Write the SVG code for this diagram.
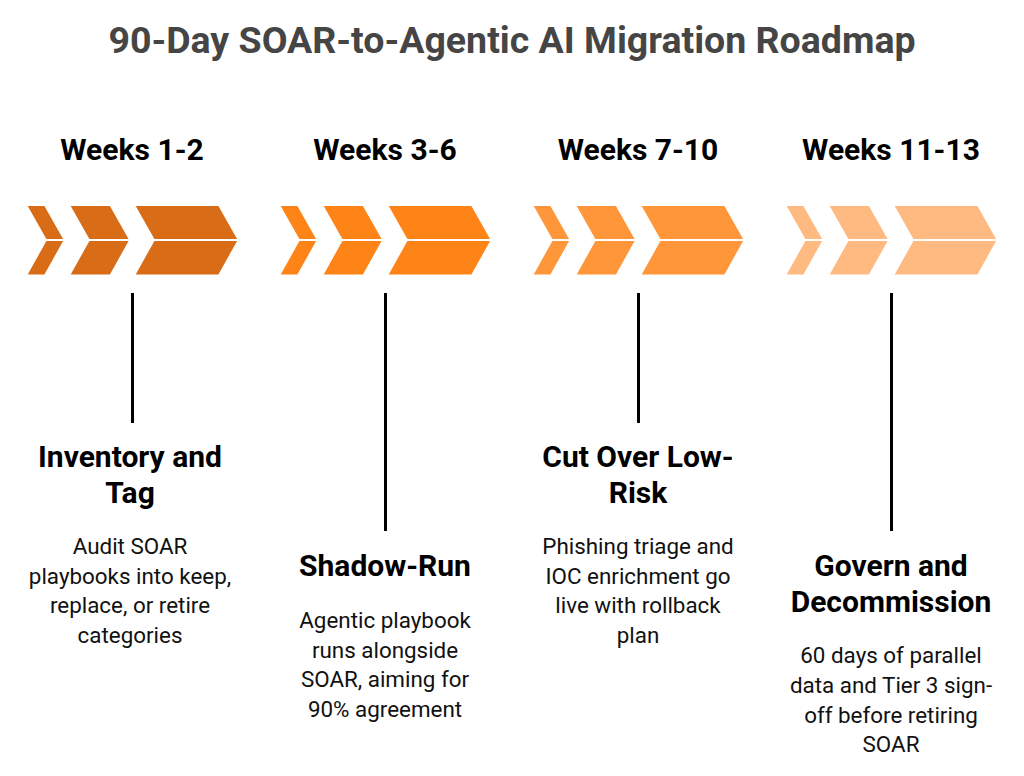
<svg xmlns="http://www.w3.org/2000/svg" width="1024" height="776" viewBox="0 0 1024 776">
<style>
.title{font-family:Roboto,"Liberation Sans",sans-serif;font-weight:700;font-size:37.5px;fill:#454545;text-anchor:middle}
.wk{font-family:Roboto,"Liberation Sans",sans-serif;font-weight:700;font-size:30px;fill:#000;text-anchor:middle}
.hd{font-family:Roboto,"Liberation Sans",sans-serif;font-weight:700;font-size:30px;fill:#000;text-anchor:middle}
.ds{font-family:Roboto,"Liberation Sans",sans-serif;font-weight:400;font-size:22.4px;fill:#111;text-anchor:middle}
.line{stroke:#000;stroke-width:3}
</style>
<defs>
<g id="chevs" stroke="#fff" stroke-width="2" stroke-linejoin="miter">
<polygon points="26,205 45,205 64.8,240 45.8,240"/>
<polygon points="45.8,240 64.8,240 45,275.5 26,275.5"/>
<polygon points="69,205 110.5,205 130.3,240 88.8,240"/>
<polygon points="88.8,240 130.3,240 110.5,275.5 69,275.5"/>
<polygon points="134,205 219,205 238.8,240 153.8,240"/>
<polygon points="153.8,240 238.8,240 219,275.5 134,275.5"/>
</g>
</defs>
<rect width="1024" height="776" fill="#fff"/>
<text class="title" x="512" y="53">90-Day SOAR-to-Agentic AI Migration Roadmap</text>

<g id="phase1">
<text class="wk" x="132" y="160">Weeks 1-2</text>
<g fill="#D96C17"><use href="#chevs"/></g>
<text class="hd" x="130" y="467">Inventory and</text>
<text class="hd" x="130" y="503">Tag</text>
<text class="ds" x="130" y="554">Audit SOAR</text>
<text class="ds" x="130" y="584">playbooks into keep,</text>
<text class="ds" x="130" y="613">replace, or retire</text>
<text class="ds" x="130" y="643">categories</text>
</g>

<g id="phase2">
<text class="wk" x="385" y="160">Weeks 3-6</text>
<g fill="#FF8418" transform="translate(253,0)"><use href="#chevs"/></g>
<text class="hd" x="385" y="576">Shadow-Run</text>
<text class="ds" x="385" y="628">Agentic playbook</text>
<text class="ds" x="385" y="658">runs alongside</text>
<text class="ds" x="385" y="687">SOAR, aiming for</text>
<text class="ds" x="385" y="717">90% agreement</text>
</g>

<g id="phase3">
<text class="wk" x="638" y="160">Weeks 7-10</text>
<g fill="#FF963A" transform="translate(506,0)"><use href="#chevs"/></g>
<text class="hd" x="638" y="467">Cut Over Low-</text>
<text class="hd" x="638" y="503">Risk</text>
<text class="ds" x="638" y="554">Phishing triage and</text>
<text class="ds" x="638" y="584">IOC enrichment go</text>
<text class="ds" x="638" y="613">live with rollback</text>
<text class="ds" x="638" y="643">plan</text>
</g>

<g id="phase4">
<text class="wk" x="891" y="160">Weeks 11-13</text>
<g fill="#FFBA82" transform="translate(759,0)"><use href="#chevs"/></g>
<text class="hd" x="891" y="576">Govern and</text>
<text class="hd" x="891" y="612">Decommission</text>
<text class="ds" x="891" y="663">60 days of parallel</text>
<text class="ds" x="891" y="693">data and Tier 3 sign-</text>
<text class="ds" x="891" y="723">off before retiring</text>
<text class="ds" x="891" y="752">SOAR</text>
</g>

<g id="connectors">
<line class="line" x1="132.5" y1="293" x2="132.5" y2="423"/>
<line class="line" x1="385.5" y1="293" x2="385.5" y2="531"/>
<line class="line" x1="638.5" y1="293" x2="638.5" y2="423"/>
<line class="line" x1="891.5" y1="293" x2="891.5" y2="531"/>
</g>
</svg>
